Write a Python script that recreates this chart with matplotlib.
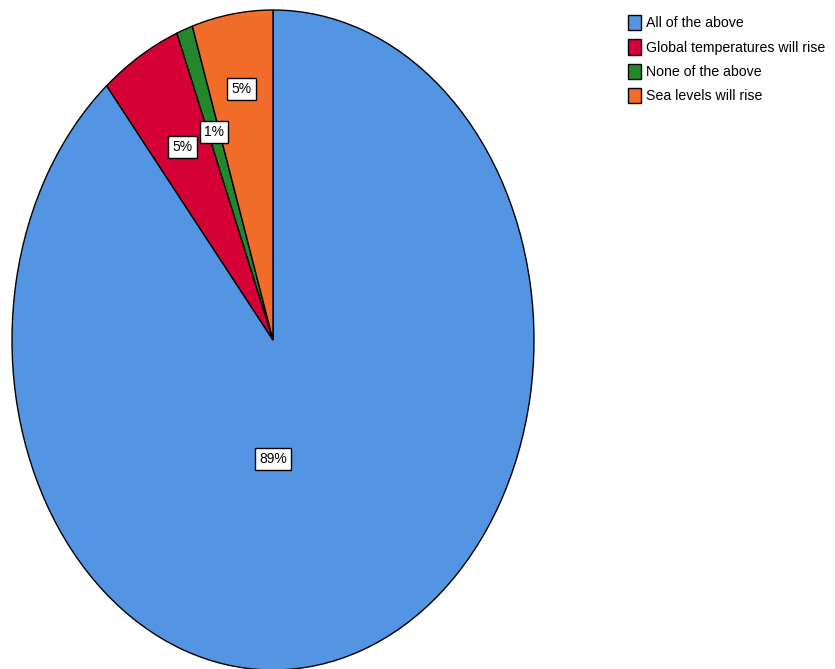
import numpy as np
import matplotlib.pyplot as plt
from matplotlib.patches import Patch

# Survey answers and their share of respondents
answers = ['All of the above', 'Global temperatures will rise',
           'None of the above', 'Sea levels will rise']
shares = [89, 5, 1, 5]
colors = ['#5395e3', '#d50036', '#24882b', '#f26c2a']

# radial placement of each percentage box (fraction of radius)
label_r = [0.36, 0.68, 0.67, 0.77]

plt.rcParams['font.family'] = ['Liberation Sans Narrow', 'Liberation Sans', 'DejaVu Sans']

fig = plt.figure(figsize=(8.35, 6.69), dpi=100)
ax = fig.add_axes([12 / 835, -1 / 669, 522 / 835, 660 / 669])

wedges, _ = ax.pie(shares, colors=colors, startangle=90, counterclock=False,
                   wedgeprops=dict(edgecolor='black', linewidth=1.0))
ax.set_xlim(-1, 1)
ax.set_ylim(-1, 1)
ax.set_aspect('auto')
ax.axis('off')

for i, (w, pct) in enumerate(zip(wedges, shares)):
    if i == 0:
        ang = np.deg2rad(-90)  # big slice: label straight below centre
    else:
        ang = np.deg2rad((w.theta1 + w.theta2) / 2)
    x = label_r[i] * np.cos(ang)
    y = label_r[i] * np.sin(ang)
    ax.text(x, y, f'{pct}%', ha='center', va='center', fontsize=10,
            bbox=dict(boxstyle='square,pad=0.3', facecolor='white',
                      edgecolor='black', linewidth=1.0))

handles = [Patch(facecolor=c, edgecolor='black', linewidth=1.0) for c in colors]
fig.legend(handles, answers, loc='upper left', bbox_to_anchor=(628 / 835, 1 - 15 / 669),
           frameon=False, fontsize=10.2, handlelength=0.95, handleheight=1.3,
           handletextpad=0.3, labelspacing=0.62, borderaxespad=0, borderpad=0)

fig.savefig('out.png', dpi=100)
